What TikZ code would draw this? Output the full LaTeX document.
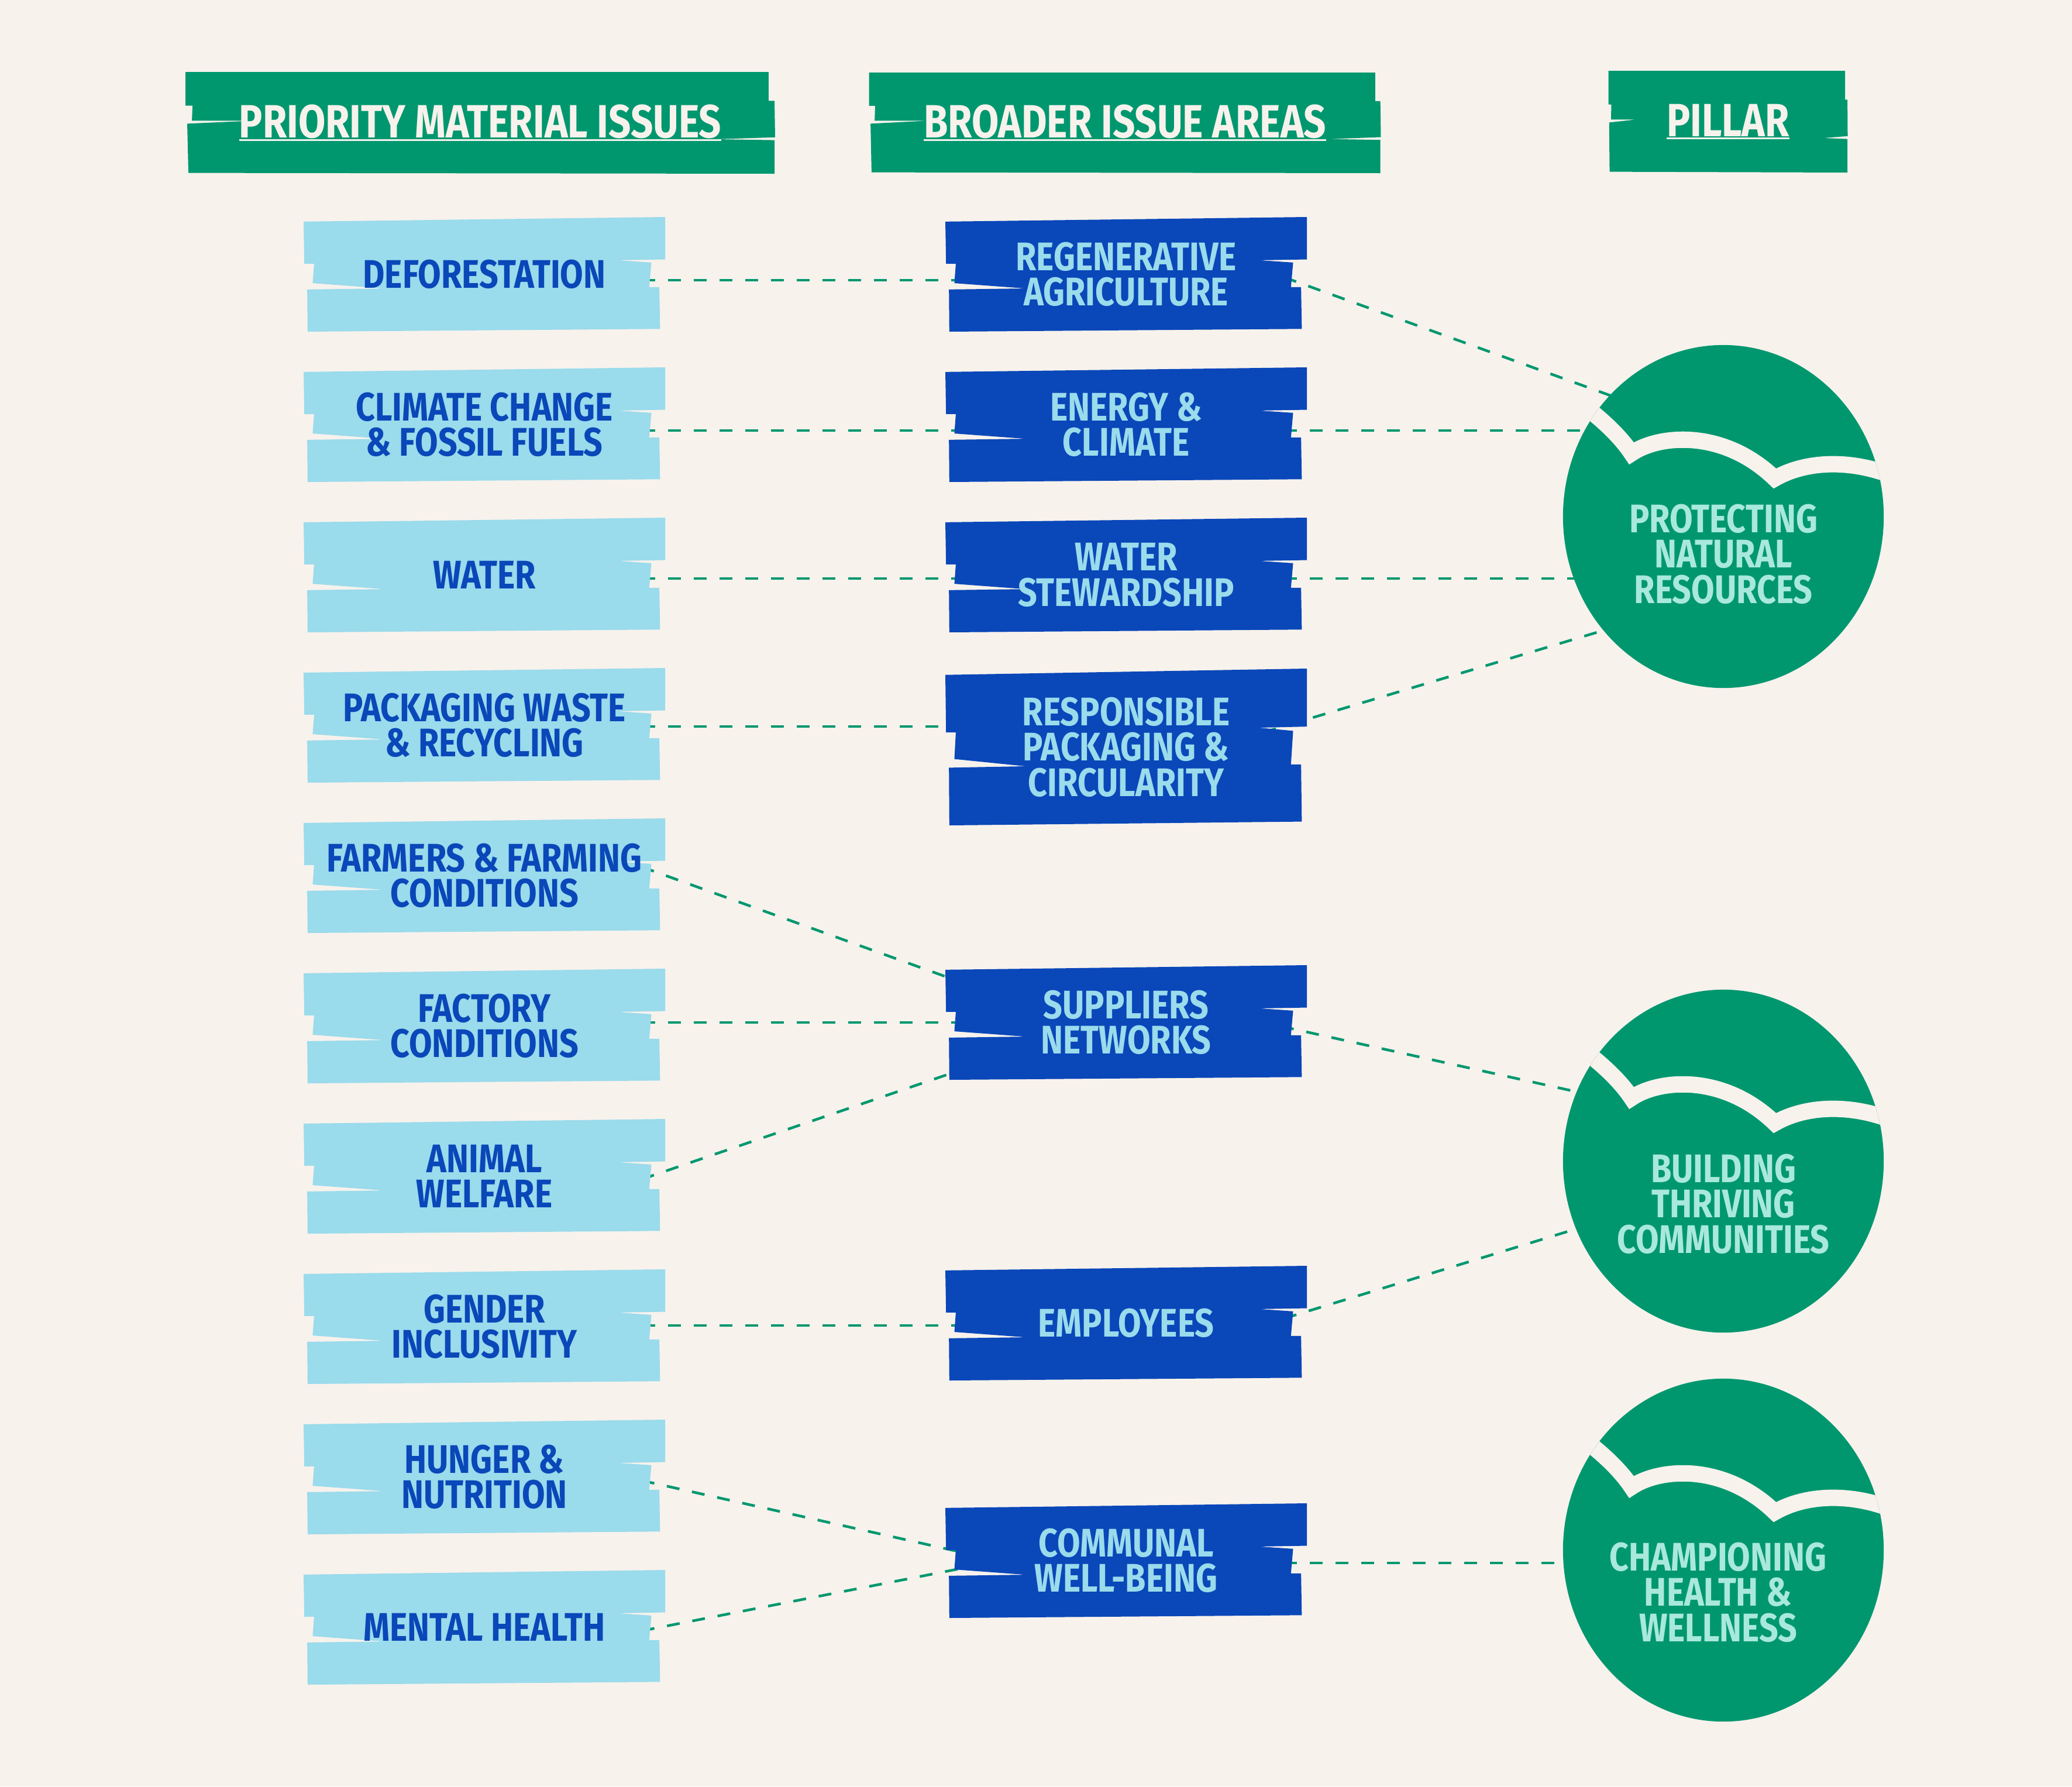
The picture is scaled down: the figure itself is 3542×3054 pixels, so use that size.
\documentclass[tikz,border=0pt]{standalone}
\usepackage{fontspec}
\newfontfamily\tfont[FakeStretch=0.84]{Fira Sans}
\usetikzlibrary{shapes.geometric,calc}
\definecolor{bgc}{HTML}{F7F2EC}
\definecolor{grn}{HTML}{00976F}
\definecolor{lblue}{HTML}{9ADBEC}
\definecolor{dblue}{HTML}{0A47B9}
\definecolor{mint}{HTML}{A9E8DC}
\pgfdeclarelayer{bg}\pgfsetlayers{bg,main}

% body tape: cx cy w h colour
\newcommand\bodytape[5]{%
\begin{scope}[shift={(#1-#3/2,#2-#4/2)},x={(#3*0.01cm,0)},y={(0,-#4*0.01cm)}]
\fill[#5] (0,0.04)--(1,0)--(1,0.37)--(0.868,0.377)--(0.962,0.397)--(0.956,0.611)--(0.984,0.611)--(0.986,0.976)--(0.011,1)--(0.010,0.632)--(0.222,0.623)--(0.025,0.577)--(0.029,0.407)--(0.002,0.407)--cycle;
\end{scope}}
% header tape
\newcommand\hdrtape[5]{%
\begin{scope}[shift={(#1-#3/2,#2-#4/2)},x={(#3*0.01cm,0)},y={(0,-#4*0.01cm)}]
\fill[#5] (0,0)--(0.989,0)--(0.989,0.284)--(0.999,0.284)--(1,0.642)--(0.900,0.661)--(0.999,0.670)--(0.999,1)--(0.005,0.992)--(0.003,0.508)--(0.115,0.479)--(0.011,0.479)--(0.012,0.331)--(0,0.331)--cycle;
\end{scope}}
% tape box with its text node: name cx cy w h fill textstyle text
\newcommand\tapebox[8]{%
\bodytape{#2}{#3}{#4}{#5}{#6}
\node[#7] (#1) at (#2,#3) {#8};}
\newcommand\hul[1]{\setbox0\hbox{#1}\rlap{\rule[-0.05cm]{\wd0}{0.028cm}}\box0}
% pillar: name cy textx texty text
\newcommand\pillar[5]{%
\node[pill] (#1) at (2946,#2) {};
\begin{scope}[shift={(2946,#2)}]
\clip (0,0) ellipse [x radius=2.74cm, y radius=2.93cm];
\draw[band] (-250,-198) .. controls (-205,-165) and (-175,-135) .. (-157,-108)
  .. controls (-110,-140) and (0,-150) .. (88,-65)
  .. controls (140,-95) and (220,-100) .. (300,-65);
\end{scope}
\node[ctxt] (#1txt) at (#3,#4) {#5};}

\tikzset{
 ltxt/.style={font=\tfont\bfseries\fontsize{19.4}{17.2}\selectfont, text=dblue, align=center, inner sep=0pt},
 dtxt/.style={font=\tfont\bfseries\fontsize{19.4}{17.2}\selectfont, text=lblue, align=center, inner sep=0pt},
 htxt/.style={font=\tfont\bfseries\fontsize{22.7}{20}\selectfont, text=bgc, align=center, inner sep=0pt},
 ctxt/.style={font=\tfont\bfseries\fontsize{19.4}{17.2}\selectfont, text=mint, align=center, inner sep=0pt},
 conn/.style={grn, line width=0.045cm, dash pattern=on 0.22cm off 0.22cm},
 band/.style={bgc, line width=0.28cm, line join=miter, miter limit=20},
 pill/.style={ellipse, fill=grn, minimum width=5.48cm, minimum height=5.86cm, inner sep=0pt},
}

\begin{document}
\begin{tikzpicture}[x=0.01cm,y=-0.01cm]
\begin{pgfonlayer}{bg}
\fill[bgc] (0,0) rectangle (3542,3054);
\end{pgfonlayer}

% headers
\hdrtape{821}{210}{1008}{174}{grn}
\node[htxt] (h1) at (821,210) {\hul{PRIORITY MATERIAL ISSUES}};
\hdrtape{1923}{210}{875}{172}{grn}
\node[htxt] (h2) at (1923,210) {\hul{BROADER ISSUE AREAS}};
\hdrtape{2954}{208}{409}{174}{grn}
\node[htxt] (h3) at (2954,208) {\hul{PILLAR}};

% priority material issues
\tapebox{deforest}{828}{469}{618}{196}{lblue}{ltxt}{DEFORESTATION}
\tapebox{climate}{828}{726}{618}{196}{lblue}{ltxt}{CLIMATE CHANGE\\\& FOSSIL FUELS}
\tapebox{water}{828}{983}{618}{196}{lblue}{ltxt}{WATER}
\tapebox{packaging}{828}{1240}{618}{196}{lblue}{ltxt}{PACKAGING WASTE\\\& RECYCLING}
\tapebox{farmers}{828}{1497}{618}{196}{lblue}{ltxt}{FARMERS \& FARMING\\CONDITIONS}
\tapebox{factory}{828}{1754}{618}{196}{lblue}{ltxt}{FACTORY\\CONDITIONS}
\tapebox{animal}{828}{2011}{618}{196}{lblue}{ltxt}{ANIMAL\\WELFARE}
\tapebox{gender}{828}{2268}{618}{196}{lblue}{ltxt}{GENDER\\INCLUSIVITY}
\tapebox{hunger}{828}{2525}{618}{196}{lblue}{ltxt}{HUNGER \&\\NUTRITION}
\tapebox{mental}{828}{2782}{618}{196}{lblue}{ltxt}{MENTAL HEALTH}

% broader issue areas
\tapebox{regen}{1925}{469}{618}{196}{dblue}{dtxt}{REGENERATIVE\\AGRICULTURE}
\tapebox{energy}{1925}{726}{618}{196}{dblue}{dtxt}{ENERGY \&\\CLIMATE}
\tapebox{waterst}{1925}{983}{618}{196}{dblue}{dtxt}{WATER\\STEWARDSHIP}
\tapebox{resp}{1925}{1277}{618}{268}{dblue}{dtxt}{RESPONSIBLE\\PACKAGING \&\\CIRCULARITY}
\tapebox{suppliers}{1925}{1748}{618}{196}{dblue}{dtxt}{SUPPLIERS\\NETWORKS}
\tapebox{employees}{1925}{2262}{618}{196}{dblue}{dtxt}{EMPLOYEES}
\tapebox{communal}{1925}{2668}{618}{196}{dblue}{dtxt}{COMMUNAL\\WELL-BEING}

% pillars
\pillar{protect}{883}{2946}{947}{PROTECTING\\NATURAL\\RESOURCES}
\pillar{building}{1985}{2946}{2058}{BUILDING\\THRIVING\\COMMUNITIES}
\pillar{champ}{2650}{2937}{2722}{CHAMPIONING\\HEALTH \&\\WELLNESS}

% connectors (behind boxes and pillars)
\begin{pgfonlayer}{bg}
\draw[conn] ($(deforest)+(270,10)$) -- ($(regen)+(-270,10)$);
\draw[conn] ($(climate)+(270,10)$) -- ($(energy)+(-270,10)$);
\draw[conn] ($(water)+(270,6)$) -- ($(waterst)+(-270,6)$);
\draw[conn] ($(packaging)+(270,2)$) -- ($(resp)+(-270,-35)$);
\draw[conn] ($(farmers)+(269,-15)$) -- ($(suppliers)+(-285,-70)$);
\draw[conn] ($(factory)+(270,-6)$) -- ($(suppliers)+(-270,0)$);
\draw[conn] ($(animal)+(269,5)$) -- ($(suppliers)+(-285,82)$);
\draw[conn] ($(gender)+(270,-2)$) -- ($(employees)+(-270,4)$);
\draw[conn] ($(hunger)+(269,6)$) -- ($(communal)+(-275,-13)$);
\draw[conn] ($(mental)+(269,6)$) -- ($(communal)+(-275,12)$);
\draw[conn] ($(regen)+(270,5)$) -- ($(protect)+(-166,-197)$);
\draw[conn] ($(energy)+(270,10)$) -- ($(protect)+(-150,-147)$);
\draw[conn] ($(waterst)+(270,6)$) -- ($(protect)+(-150,106)$);
\draw[conn] ($(resp)+(235,-25)$) -- ($(protect)+(-186,189)$);
\draw[conn] ($(suppliers)+(265,6.5)$) -- ($(building)+(-226,-113)$);
\draw[conn] ($(employees)+(270,-8)$) -- ($(building)+(-226,108)$);
\draw[conn] ($(communal)+(270,4)$) -- ($(champ)+(-200,22)$);
\end{pgfonlayer}
\end{tikzpicture}
\end{document}
